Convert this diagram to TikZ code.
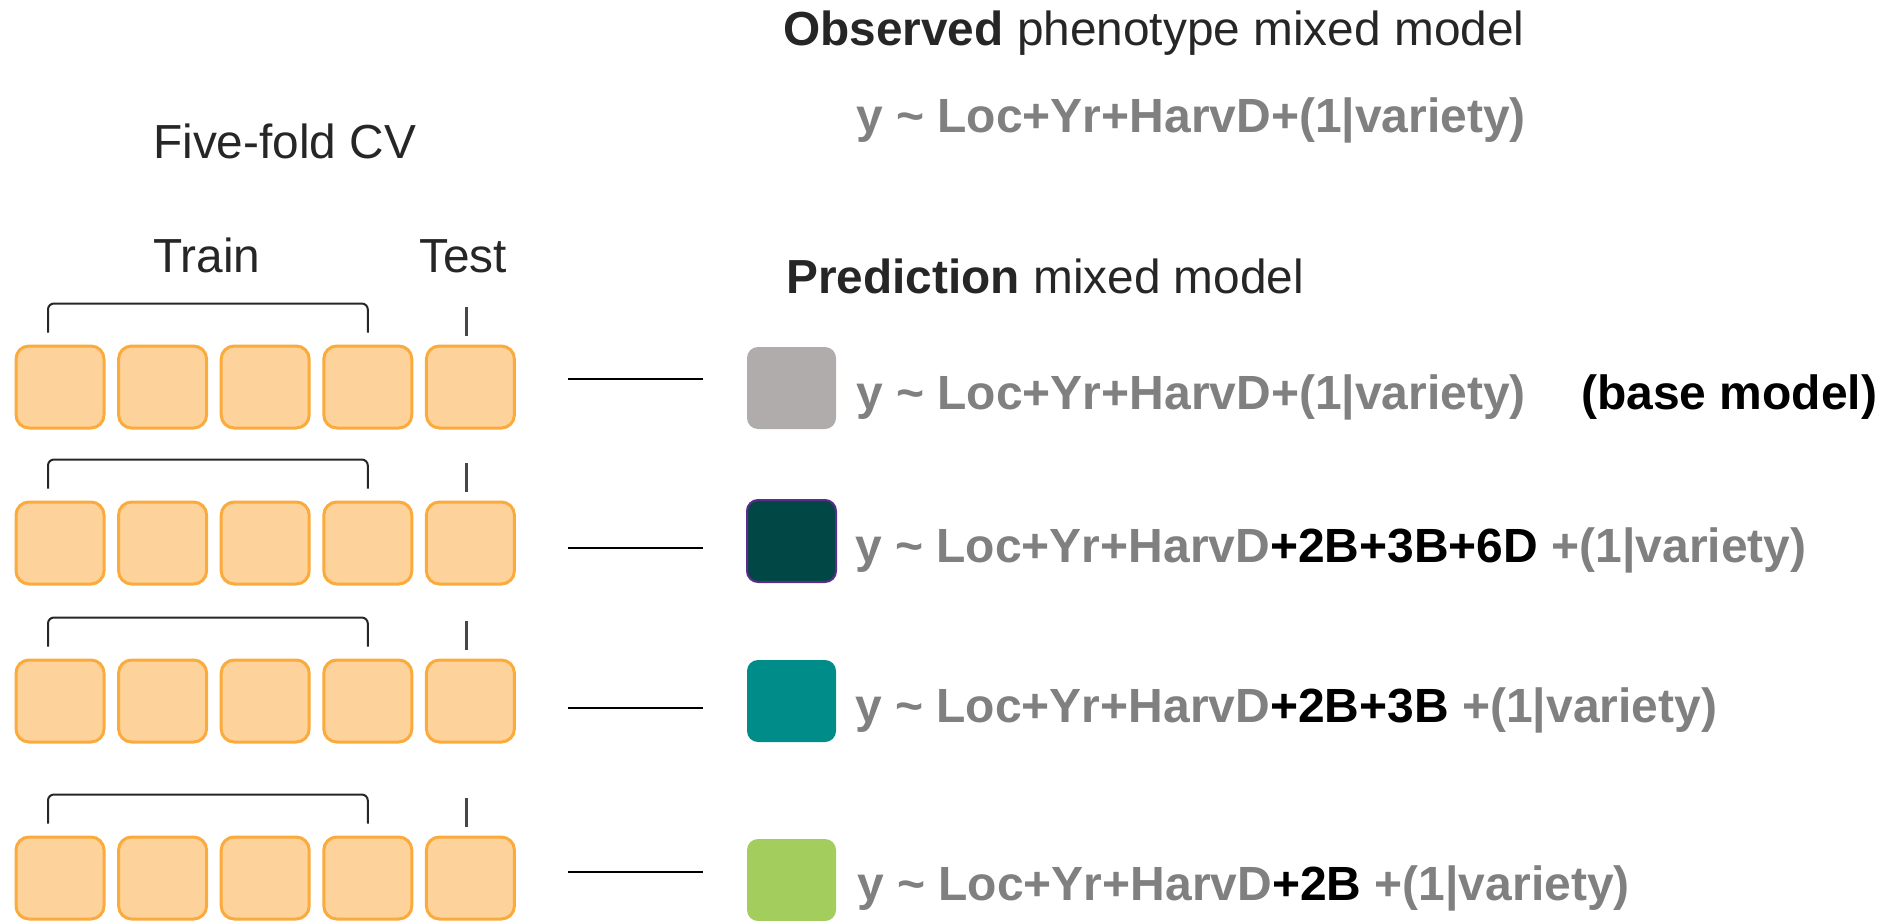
\documentclass[tikz,border=0pt]{standalone}
\usepackage{fontspec}
\setmainfont{Liberation Sans}
\usetikzlibrary{calc}
\definecolor{boxfill}{HTML}{FED39B}
\definecolor{boxline}{HTML}{FBAA3C}
\definecolor{txtdark}{HTML}{262626}
\definecolor{txtgray}{HTML}{808080}
\definecolor{sqgray}{HTML}{AFACAB}
\definecolor{sqdark}{HTML}{004746}
\definecolor{sqdarkline}{HTML}{5B2C8C}
\definecolor{sqteal}{HTML}{008C88}
\definecolor{sqgreen}{HTML}{A3CD5D}
\tikzset{
  fold/.style={draw=boxline, fill=boxfill, line width=3pt, rounded corners=13pt,
    minimum width=88pt, minimum height=82pt, inner sep=0pt},
  sq/.style={rounded corners=11pt, minimum width=89pt, minimum height=82pt, inner sep=0pt},
  lbl/.style={anchor=base west, inner sep=0pt, text=txtdark, font=\fontsize{47.8}{57}\selectfont},
  formula/.style={anchor=base west, inner sep=0pt, text=txtgray, font=\fontsize{48}{58}\selectfont\bfseries},
  brk/.style={draw=txtdark, line width=2pt, rounded corners=6pt},
  tick/.style={draw=txtdark!85, line width=2.2pt},
  conn/.style={draw=black, line width=2pt}
}
\begin{document}
\begin{tikzpicture}[x=1pt,y=-1pt]
\useasboundingbox (0,0) rectangle (1888,921);
% titles
\node[lbl] (obs) at (783,45) {\textbf{Observed} phenotype mixed model};
\node[formula] (obsf) at (856,132) {y \textasciitilde\ Loc+Yr+HarvD+(1|variety)};
\node[lbl] (cv) at (153,158) {Five-fold CV};
\node[lbl] (train) at (153,272) {Train};
\node[lbl] (test) at (419,272) {Test};
\node[lbl] (pred) at (786,293) {\textbf{Prediction} mixed model};
% fold rows
\foreach \r/\cy in {1/387, 2/543, 3/701, 4/878} {
  \foreach \c in {1,...,5} {
    \node[fold] (b\r\c) at ({60+102.6*(\c-1)}, \cy) {};
  }
  \draw[brk] ($(b\r1.north)+(-12,-12)$) -- ($(b\r1.north)+(-12,-41)$) -- ($(b\r4.north)+(0,-41)$) -- ($(b\r4.north)+(0,-12)$);
  \draw[tick] ($(b\r5.north)+(-4,-9)$) -- ($(b\r5.north)+(-4,-38)$);
}
% colour squares
\node[sq, fill=sqgray] (s1) at (791.5,388) {};
\node[sq, fill=sqdark, draw=sqdarkline, line width=2pt] (s2) at (791.5,541) {};
\node[sq, fill=sqteal] (s3) at (791.5,701) {};
\node[sq, fill=sqgreen] (s4) at (791.5,880) {};
% connectors
\foreach \r/\ly in {1/379, 2/548, 3/708, 4/872} {
  \coordinate (la\r) at (568,\ly);
  \coordinate (lb\r) at (703,\ly);
  \draw[conn] (la\r) -- (lb\r);
}
% formulas
\node[formula] (f1) at (856,409) {y \textasciitilde\ Loc+Yr+HarvD+(1|variety)};
\node[formula, text=black] (base) at (1581,409) {(base model)};
\node[formula] (f2) at (855,562) {y \textasciitilde\ Loc+Yr+HarvD\textcolor{black}{+2B+3B+6D} +(1|variety)};
\node[formula] (f3) at (855,722) {y \textasciitilde\ Loc+Yr+HarvD\textcolor{black}{+2B+3B} +(1|variety)};
\node[formula] (f4) at (857,900) {y \textasciitilde\ Loc+Yr+HarvD\textcolor{black}{+2B} +(1|variety)};
\end{tikzpicture}
\end{document}
